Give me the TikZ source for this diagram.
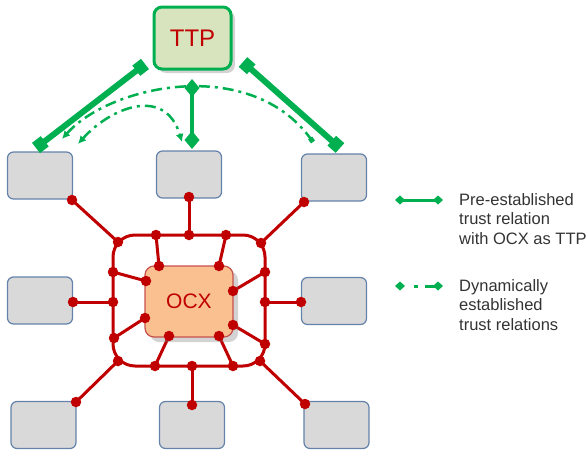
\documentclass[tikz,border=0pt]{standalone}
\usepackage{fontspec}
\setmainfont{Liberation Sans}
\usetikzlibrary{positioning,arrows.meta,shadows,backgrounds}
\definecolor{TrustGreen}{RGB}{0,176,80}
\definecolor{LinkRed}{RGB}{192,0,0}
\definecolor{PeerFill}{RGB}{217,217,217}
\definecolor{PeerLine}{RGB}{100,130,170}
\definecolor{TTPFill}{RGB}{215,228,189}
\definecolor{OCXFill}{RGB}{250,192,144}
\definecolor{OCXLine}{RGB}{200,80,77}
\tikzset{
    peerbox/.style={rectangle, rounded corners=6pt, draw=PeerLine, fill=PeerFill, line width=1.2pt, minimum width=65pt, minimum height=47pt},
    reddot/.style={circle, fill=LinkRed, inner sep=0pt, minimum size=10.5pt},
    redlink/.style={draw=LinkRed, line width=3pt},
    legendtext/.style={align=left, inner sep=0pt, font=\fontsize{16.5}{19.5}\selectfont, text=black!80, anchor=north west}
}
\begin{document}
\begin{tikzpicture}[
        x=1pt, y=-1pt,
        % --- BOXES ---
        ttpbox/.style={rectangle, rounded corners=8pt, draw=TrustGreen, line width=3pt, fill=TTPFill,
            minimum width=77pt, minimum height=62pt, text=LinkRed, font=\fontsize{24}{28}\selectfont,
            drop shadow={opacity=0.35, shadow xshift=4pt, shadow yshift=-4pt}},
        ocxbox/.style={rectangle, rounded corners=9pt, draw=OCXLine, line width=1.2pt, fill=OCXFill,
            minimum width=88pt, minimum height=71pt, text=LinkRed, font=\fontsize{21}{25}\selectfont,
            drop shadow={opacity=0.35, shadow xshift=5pt, shadow yshift=-5pt}},
        % --- GREEN ARROWS ---
        trustline/.style={draw=TrustGreen, line width=6pt, {Square[length=11pt,width=13pt]}-{Square[length=11pt,width=13pt]}},
        hubline/.style={draw=TrustGreen, line width=4.5pt, {Diamond[length=18pt,width=15pt]}-{Diamond[length=18pt,width=15pt]}},
        dynline/.style={draw=TrustGreen, line width=2.5pt, dash pattern=on 11pt off 5pt on 3pt off 5pt}
    ]
    \useasboundingbox (0,0) rectangle (586,450);

    % --- TTP and OCX ---
    \node[ttpbox] (ttp) at (192.5,38) {TTP};
    \node[ocxbox] (ocx) at (189,301.5) {OCX};

    % --- PEERS ---
    \node[peerbox] (pTL) at (40,175.5) {};
    \node[peerbox] (pTM) at (189,174.5) {};
    \node[peerbox] (pTR) at (334,177.5) {};
    \node[peerbox] (pML) at (40,300.5) {};
    \node[peerbox] (pMR) at (334,301) {};
    \node[peerbox] (pBL) at (43.5,425) {};
    \node[peerbox] (pBM) at (192,425) {};
    \node[peerbox] (pBR) at (336.5,425) {};

    % --- DOTS ON PEERS ---
    \node[reddot] (dTL) at (72,200) {};
    \node[reddot] (dTM) at (189,197) {};
    \node[reddot] (dTR) at (304,202) {};
    \node[reddot] (dML) at (73,302) {};
    \node[reddot] (dMR) at (301,302) {};
    \node[reddot] (dBL) at (76,402) {};
    \node[reddot] (dBM) at (192,405) {};
    \node[reddot] (dBR) at (305,404) {};

    % --- DOTS ON RING ---
    \node[reddot] (rTL) at (118,242) {};
    \node[reddot] (rT1) at (156,235) {};
    \node[reddot] (rT2) at (189,235) {};
    \node[reddot] (rT3) at (226,235) {};
    \node[reddot] (rTR) at (261,243) {};
    \node[reddot] (rL1) at (113,272) {};
    \node[reddot] (rL2) at (113,302) {};
    \node[reddot] (rL3) at (114,338) {};
    \node[reddot] (rBL) at (118,361) {};
    \node[reddot] (rR1) at (265,272) {};
    \node[reddot] (rR2) at (265,302) {};
    \node[reddot] (rR3) at (265,344) {};
    \node[reddot] (rBR) at (260,361) {};
    \node[reddot] (rB1) at (155,366) {};
    \node[reddot] (rB2) at (192,366) {};
    \node[reddot] (rB3) at (233,366) {};

    % --- DOTS ON OCX ---
    \node[reddot] (oT1) at (159,266) {};
    \node[reddot] (oT2) at (219,266) {};
    \node[reddot] (oL1) at (146,281) {};
    \node[reddot] (oL2) at (145,318) {};
    \node[reddot] (oR1) at (233,291) {};
    \node[reddot] (oR2) at (233,325) {};
    \node[reddot] (oB1) at (169,336) {};
    \node[reddot] (oB2) at (219,336) {};

    % --- RING AND LINKS (behind) ---
    \begin{scope}[on background layer]
        \draw[redlink, rounded corners=22pt] (113,235) rectangle (265,366);
        \foreach \a/\b in {dTL/rTL, dTM/rT2, dTR/rTR, dML/rL2, dMR/rR2, dBL/rBL, dBM/rB2, dBR/rBR,
                           oT1/rT1, oT2/rT3, oL1/rL1, oL2/rL3, oR1/rR1, oR2/rR3, oB1/rB1, oB2/rB3}
            \draw[redlink] (\a.center) -- (\b.center);
    \end{scope}

    % --- TRUST RELATIONS ---
    \coordinate (tL) at (145,64);
    \coordinate (eL) at (36,148);
    \coordinate (tR) at (243,62);
    \coordinate (eR) at (340,148);
    \coordinate (tM) at (192,79);
    \coordinate (eM) at (192,149);
    \draw[trustline] (tL) -- (eL);
    \draw[trustline] (tR) -- (eR);
    \draw[hubline] (tM) -- (eM);

    \coordinate (qL1) at (62,139);
    \coordinate (qR1) at (313,142);
    \coordinate (qL2) at (78,144);
    \coordinate (qR2) at (182,142);
    \draw[dynline, {Latex[length=8pt,width=8pt]}-{Square[length=5pt,width=5pt]}]
        (qL1) .. controls (110,85) and (250,55) .. (qR1);
    \draw[dynline, {Latex[length=8pt,width=8pt]}-{Latex[length=8pt,width=8pt]}]
        (qL2) .. controls (110,108) and (165,85) .. (qR2);

    % --- LEGEND ---
    \coordinate (legA1) at (395,200);
    \coordinate (legA2) at (443,200);
    \coordinate (legB1) at (395,286);
    \coordinate (legB2) at (443,286);
    \draw[draw=TrustGreen, line width=3pt, {Diamond[length=10pt,width=9pt]}-{Diamond[length=10pt,width=9pt]}] (legA1) -- (legA2);
    \draw[draw=TrustGreen, line width=3pt, dash pattern=on 0pt off 11pt on 4pt off 7pt on 20pt, {Diamond[length=10pt,width=9pt]}-{Diamond[length=10pt,width=9pt]}] (legB1) -- (legB2);
    \node[legendtext] (legA) at (459,193) {Pre-established\\trust relation\\with OCX as TTP};
    \node[legendtext] (legB) at (459,279) {Dynamically\\established\\trust relations};

\end{tikzpicture}
\end{document}
